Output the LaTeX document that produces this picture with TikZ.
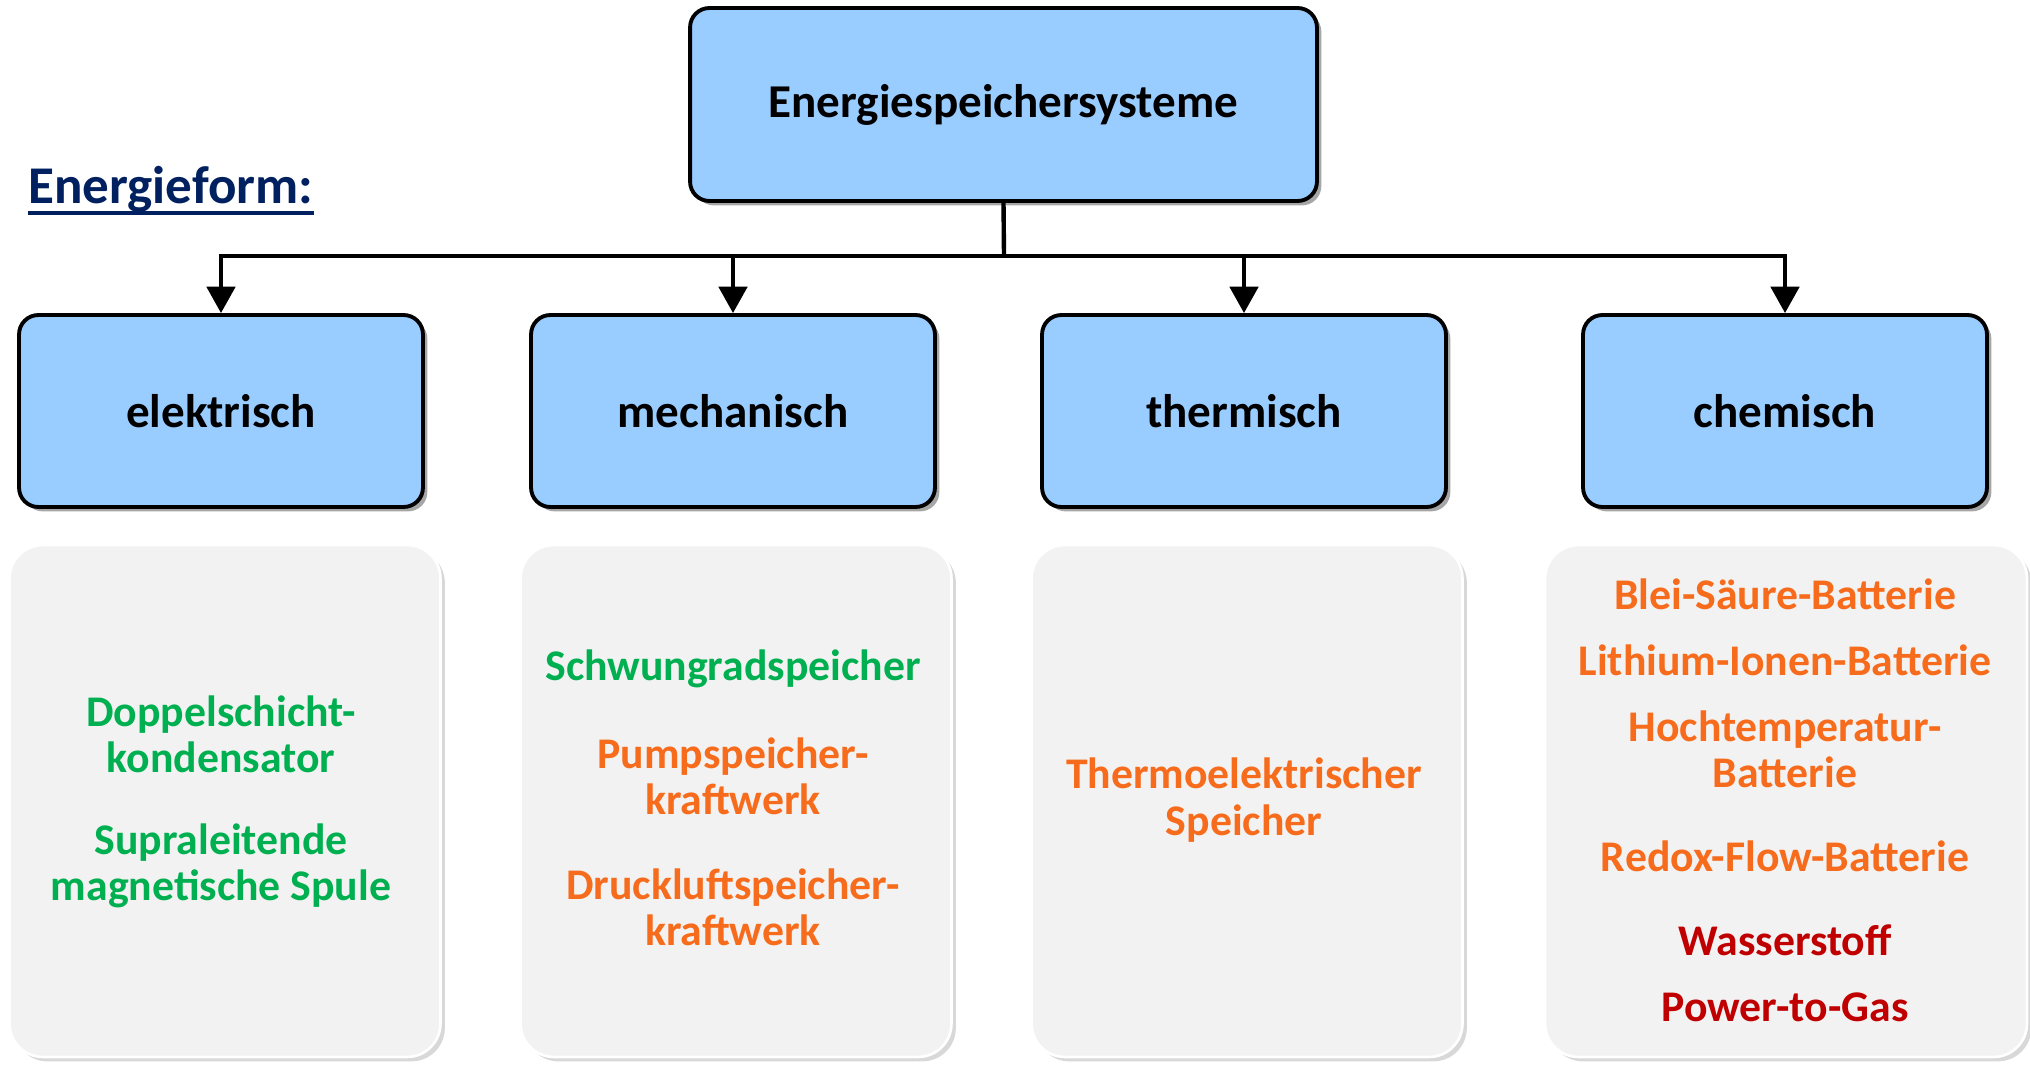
\documentclass[tikz,border=0pt]{standalone}
\usepackage{fontspec}
\setmainfont{Carlito}
\usetikzlibrary{arrows.meta,shadows}
\definecolor{boxblue}{RGB}{153,204,255}
\definecolor{greyfill}{RGB}{242,242,242}
\definecolor{itgreen}{RGB}{0,176,80}
\definecolor{itorange}{RGB}{247,108,28}
\definecolor{itred}{RGB}{192,0,0}
\definecolor{navy}{RGB}{0,32,96}
\begin{document}
\begin{tikzpicture}[x=0.02cm,y=-0.02cm,
  catbox/.style={draw=black, line width=2.2pt, fill=boxblue, rounded corners=11pt,
    minimum width=8.08cm, minimum height=3.84cm,
    font=\fontsize{26.8}{30}\selectfont\bfseries,
    drop shadow={shadow xshift=2.5pt, shadow yshift=-2.5pt, opacity=0.35, fill=black}},
  topbox/.style={catbox, minimum width=12.54cm, minimum height=3.86cm},
  greybox/.style={draw=white, line width=1.5pt, fill=greyfill, rounded corners=19pt,
    minimum width=8.62cm, minimum height=10.24cm,
    drop shadow={shadow xshift=2.5pt, shadow yshift=-2.5pt, opacity=0.3, fill=gray}},
  item/.style={align=center, inner sep=0pt, font=\fontsize{24.9}{26.4}\selectfont\bfseries},
  conn/.style={line width=2.5pt, draw=black},
  arr/.style={conn, -{Triangle[length=15pt,width=16pt]}}
]
\useasboundingbox (0,0) rectangle (2030,1065);
\fill[white] (0,0) rectangle (2030,1065);

% title
\node[anchor=base west, inner sep=0pt, text=navy,
  font=\fontsize{30.2}{32}\selectfont\bfseries] (title) at (28,203) {Energieform:};
\draw[navy, line width=2.2pt] ([yshift=-5.5pt]title.base west) -- ([yshift=-5.5pt]title.base east);

% top box
\node[topbox] (top) at (1003.5,104.5) {Energiespeichersysteme};

% category boxes
\node[catbox] (el) at (221,411) {elektrisch};
\node[catbox] (me) at (733,411) {mechanisch};
\node[catbox] (th) at (1244,411) {thermisch};
\node[catbox] (ch) at (1785,411) {chemisch};

% connectors
\coordinate (bus) at (1004,256);
\draw[conn] (top.south) -- (bus);
\draw[arr] (bus) -| (el.north);
\draw[arr] (bus) -| (me.north);
\draw[arr] (bus) -| (th.north);
\draw[arr] (bus) -| (ch.north);

% grey boxes
\node[greybox] (ge) at (225,801) {};
\node[greybox] (gm) at (736,801) {};
\node[greybox] (gt) at (1247,801) {};
\node[greybox, minimum width=9.64cm] (gc) at (1786,801) {};

% items
\node[item, text=itgreen] (e1) at (221,734) {Doppelschicht-\\kondensator};
\node[item, text=itgreen] (e2) at (221,866) {Supraleitende\\magnetische Spule};

\node[item, text=itgreen] (m1) at (733,669) {Schwungradspeicher};
\node[item, text=itorange] (m2) at (733,776) {Pumpspeicher-\\kraftwerk};
\node[item, text=itorange] (m3) at (733,907) {Druckluftspeicher-\\kraftwerk};

\node[item, text=itorange] (t1) at (1244,800) {Thermoelektrischer\\Speicher};

\node[item, text=itorange] (c1) at (1785,594) {Blei-Säure-Batterie};
\node[item, text=itorange] (c2) at (1785,660) {Lithium-Ionen-Batterie};
\node[item, text=itorange] (c3) at (1785,749.5) {Hochtemperatur-\\Batterie};
\node[item, text=itorange] (c4) at (1785,856) {Redox-Flow-Batterie};
\node[item, text=itred] (c5) at (1785,940) {Wasserstoff};
\node[item, text=itred] (c6) at (1785,1007) {Power-to-Gas};
\end{tikzpicture}
\end{document}
